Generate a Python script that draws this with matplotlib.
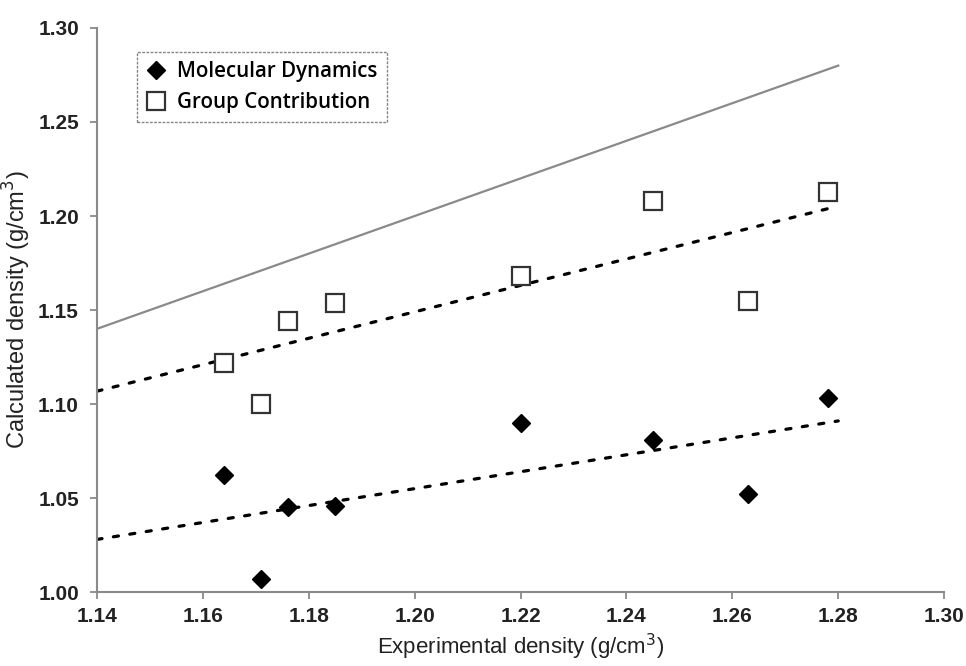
import numpy as np
import matplotlib
matplotlib.use("Agg")
import matplotlib.pyplot as plt

# experimental density (g/cm3)
exp_density = [1.164, 1.171, 1.176, 1.185, 1.220, 1.245, 1.263, 1.278]
# calculated densities
md_density = [1.062, 1.007, 1.045, 1.046, 1.090, 1.081, 1.052, 1.103]
gc_density = [1.122, 1.100, 1.144, 1.154, 1.168, 1.208, 1.155, 1.213]

x_ticks = [1.14, 1.16, 1.18, 1.20, 1.22, 1.24, 1.26, 1.28, 1.30]
y_ticks = [1.00, 1.05, 1.10, 1.15, 1.20, 1.25, 1.30]

plt.rcParams['font.family'] = ['Liberation Sans', 'DejaVu Sans']

fig = plt.figure(figsize=(9.66, 6.66), dpi=100)
ax = fig.add_axes([0.1004, 0.111, 0.877, 0.847])

# y = x parity line
xs = np.array([1.14, 1.28])
ax.plot(xs, xs, color='#8a8a8a', lw=1.6, zorder=1)

# linear trendlines
for ys in (gc_density, md_density):
    k, b = np.polyfit(exp_density, ys, 1)
    ax.plot(xs, k * xs + b, color='black', lw=2.3, dashes=(1.6, 3.6),
            dash_capstyle='round', zorder=2)

ax.plot(exp_density, md_density, linestyle='none', marker='D', markersize=9.5,
        color='black', label='Molecular Dynamics', zorder=3)
ax.plot(exp_density, gc_density, linestyle='none', marker='s', markersize=12.5,
        markerfacecolor='white', markeredgecolor='#333333', markeredgewidth=1.6,
        label='Group Contribution', zorder=3)

ax.set_xlim(1.14, 1.30)
ax.set_ylim(1.00, 1.30)
ax.set_xticks(x_ticks)
ax.set_yticks(y_ticks)
ax.set_xticklabels(['%.2f' % v for v in x_ticks], fontweight='bold')
ax.set_yticklabels(['%.2f' % v for v in y_ticks], fontweight='bold')

for s in ['top', 'right']:
    ax.spines[s].set_visible(False)
for s in ['left', 'bottom']:
    ax.spines[s].set_color('#8a8a8a')
    ax.spines[s].set_linewidth(1.5)
ax.tick_params(axis='both', direction='out', length=5, width=1.3, color='#8a8a8a',
               labelsize=15, labelcolor='#222222')
ax.tick_params(axis='x', pad=6)
ax.tick_params(axis='y', pad=8)

ax.set_xlabel('Experimental density (g/cm$^3$)', fontsize=16, labelpad=4,
              color='#222222')
ax.set_ylabel('Calculated density (g/cm$^3$)', fontsize=17, labelpad=4,
              color='#222222')

leg = ax.legend(loc='upper left', bbox_to_anchor=(0.047, 0.957), borderaxespad=0,
                frameon=True, fancybox=False, edgecolor='#666666',
                handletextpad=0.5, borderpad=0.45, labelspacing=0.45,
                handlelength=1.0,
                prop={'family': 'Open Sans', 'size': 14.8, 'weight': 'semibold'})
leg.get_frame().set_linewidth(1.0)
leg.get_frame().set_linestyle((0, (2, 1)))

fig.savefig('out.png', dpi=100)
